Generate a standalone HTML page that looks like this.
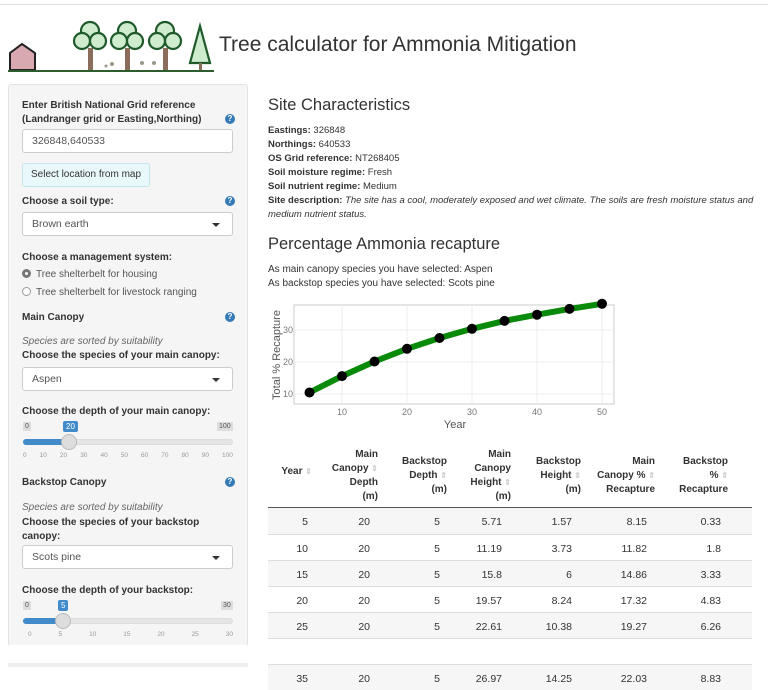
<!DOCTYPE html>
<html><head><meta charset="utf-8"><style>
*{box-sizing:border-box;margin:0;padding:0}
body{width:768px;height:685px;overflow:hidden;background:#fff;font-family:"Liberation Sans",Arial,sans-serif;color:#333;position:relative;font-size:11px}
.a{position:absolute;white-space:nowrap}
.b{font-weight:bold}
.panel{position:absolute;left:8px;top:84px;width:240px;height:600px;background:#f5f5f5;border:1px solid #e3e3e3;border-radius:3px}
.inp{position:absolute;left:22px;width:211px;height:24px;background:#fff;border:1px solid #ccc;border-radius:3px;font-size:10.5px;color:#555;padding:5px 9px}
.q{position:absolute;width:10px;height:10px;border-radius:50%;background:#337ab7;color:#fff;font-size:8px;font-weight:bold;text-align:center;line-height:10px}
.caret{position:absolute;right:12px;top:10px;border-left:4px solid transparent;border-right:4px solid transparent;border-top:4px solid #333}
.hd{position:absolute;font-weight:bold;font-size:10px;line-height:14px;text-align:right;color:#333}
.hd i{color:#ccc;font-style:normal;font-size:8px}
.row{position:absolute;left:268px;width:484px;height:26px;border-top:1px solid #ddd}
.c{position:absolute;top:8px;font-size:10.5px;color:#333;text-align:right;width:60px}
</style></head><body>
<div class="a" style="left:0;top:4px;width:768px;border-top:1px solid #ddd"></div>
<svg class="a" style="left:8px;top:20px" width="210" height="55" viewBox="0 0 210 55">
<path d="M2 50 V33 L14 24 L27 33 V50 Z" fill="#d8a9b1" stroke="#222" stroke-width="2"/>
<line x1="0" y1="51" x2="206" y2="51" stroke="#2d5d2d" stroke-width="2"/>
<g fill="#cfeccf" stroke="#1f5a2a" stroke-width="2.2">
<rect x="80" y="28" width="5" height="22" fill="#8b6d5c" stroke="none"/>
<rect x="117" y="28" width="5" height="22" fill="#8b6d5c" stroke="none"/>
<rect x="155" y="28" width="5" height="22" fill="#8b6d5c" stroke="none"/>
<circle cx="82" cy="11" r="9"/><circle cx="74" cy="21" r="8"/><circle cx="90" cy="21" r="8"/>
<circle cx="119" cy="11" r="9"/><circle cx="111" cy="21" r="8"/><circle cx="127" cy="21" r="8"/>
<circle cx="157" cy="11" r="9"/><circle cx="149" cy="21" r="8"/><circle cx="165" cy="21" r="8"/>
<path d="M192 6 L182 43 H202 Z"/><rect x="191" y="43" width="3" height="7" fill="#8b6d5c" stroke="none"/>
</g>
<g fill="#998"><circle cx="104" cy="44" r="2"/><circle cx="134" cy="43" r="2"/><circle cx="146" cy="43" r="2"/><circle cx="98" cy="46" r="1.5"/></g>
</svg>
<div class="a" style="left:219px;top:33px;font-size:21px;color:#333">Tree calculator for Ammonia Mitigation</div>

<div class="panel"></div>
<div class="a b" style="left:22px;top:99px;font-size:10px;line-height:14px">Enter British National Grid reference<br>(Landranger grid or Easting,Northing)</div>
<div class="q" style="left:225px;top:114px">?</div>
<div class="inp" style="top:129px">326848,640533</div>
<div class="a" style="left:22px;top:163px;width:128px;height:24px;background:#e9f8fb;border:1px solid #c5e6ec;border-radius:3px;font-size:10px;color:#333;padding:5px 8px">Select location from map</div>
<div class="a b" style="left:22px;top:196px;font-size:10px">Choose a soil type:</div>
<div class="q" style="left:225px;top:196px">?</div>
<div class="inp" style="top:212px">Brown earth<span class="caret"></span></div>
<div class="a b" style="left:22px;top:252px;font-size:10px">Choose a management system:</div>
<div class="a" style="left:22px;top:269px;font-size:10px;color:#555"><span style="display:inline-block;width:9px;height:9px;border-radius:50%;border:3px solid #777;background:#fff;vertical-align:-1px;margin-right:5px"></span>Tree shelterbelt for housing</div>
<div class="a" style="left:22px;top:287px;font-size:10px;color:#555"><span style="display:inline-block;width:9px;height:9px;border-radius:50%;border:1px solid #999;background:#fff;vertical-align:-1px;margin-right:5px"></span>Tree shelterbelt for livestock ranging</div>
<div class="a b" style="left:22px;top:312px;font-size:10px">Main Canopy</div>
<div class="q" style="left:225px;top:312px">?</div>
<div class="a" style="left:22px;top:336px;font-size:10px;font-style:italic;color:#666">Species are sorted by suitability</div>
<div class="a b" style="left:22px;top:350px;font-size:10px">Choose the species of your main canopy:</div>
<div class="inp" style="top:367px">Aspen<span class="caret"></span></div>
<div class="a b" style="left:22px;top:406px;font-size:10px">Choose the depth of your main canopy:</div>
<div class="a" style="left:23px;top:422px;font-size:7px;background:#ddd;color:#555;padding:1px 2px">0</div>
<div class="a" style="left:63px;top:421px;font-size:8px;background:#428bca;color:#fff;padding:1px 3px;border-radius:2px">20</div>
<div class="a" style="left:217px;top:422px;font-size:7px;background:#ddd;color:#555;padding:1px 2px">100</div>
<div class="a" style="left:23px;top:439px;width:210px;height:6px;background:#e5e5e5;border-radius:3px;border:1px solid #ddd"></div>
<div class="a" style="left:23px;top:439px;width:46px;height:6px;background:#428bca;border-radius:3px"></div>
<div class="a" style="left:61px;top:434px;width:16px;height:16px;border-radius:50%;background:#ddd;border:1px solid #bbb"></div>
<div class="a" style="left:23px;top:452px;width:210px;font-size:6.5px;color:#999;display:flex;justify-content:space-between"><span>0</span><span>10</span><span>20</span><span>30</span><span>40</span><span>50</span><span>60</span><span>70</span><span>80</span><span>90</span><span>100</span></div>
<div class="a b" style="left:22px;top:477px;font-size:10px">Backstop Canopy</div>
<div class="q" style="left:225px;top:477px">?</div>
<div class="a" style="left:22px;top:502px;font-size:10px;font-style:italic;color:#666">Species are sorted by suitability</div>
<div class="a b" style="left:22px;top:516px;font-size:10px;line-height:14px">Choose the species of your backstop<br>canopy:</div>
<div class="inp" style="top:545px">Scots pine<span class="caret"></span></div>
<div class="a b" style="left:22px;top:585px;font-size:10px">Choose the depth of your backstop:</div>
<div class="a" style="left:23px;top:601px;font-size:7px;background:#ddd;color:#555;padding:1px 2px">0</div>
<div class="a" style="left:58px;top:600px;font-size:8px;background:#428bca;color:#fff;padding:1px 3px;border-radius:2px">5</div>
<div class="a" style="left:221px;top:601px;font-size:7px;background:#ddd;color:#555;padding:1px 2px">30</div>
<div class="a" style="left:23px;top:618px;width:210px;height:6px;background:#e5e5e5;border-radius:3px;border:1px solid #ddd"></div>
<div class="a" style="left:23px;top:618px;width:40px;height:6px;background:#428bca;border-radius:3px"></div>
<div class="a" style="left:55px;top:613px;width:16px;height:16px;border-radius:50%;background:#ddd;border:1px solid #bbb"></div>
<div class="a" style="left:28px;top:631px;width:205px;font-size:6.5px;color:#999;display:flex;justify-content:space-between"><span>0</span><span>5</span><span>10</span><span>15</span><span>20</span><span>25</span><span>30</span></div>
<div class="a" style="left:0;top:645px;width:260px;height:40px;background:#fff"></div>
<div class="a" style="left:8px;top:663px;width:240px;height:4px;background:#eee"></div>

<div class="a" style="left:268px;top:96px;font-size:16.5px;color:#333">Site Characteristics</div>
<div class="a" style="left:268px;top:124px;font-size:9.5px;line-height:14px;white-space:normal;width:495px">
<b>Eastings:</b> 326848<br><b>Northings:</b> 640533<br><b>OS Grid reference:</b> NT268405<br><b>Soil moisture regime:</b> Fresh<br><b>Soil nutrient regime:</b> Medium<br><b>Site description:</b> <i>The site has a cool, moderately exposed and wet climate. The soils are fresh moisture status and medium nutrient status.</i></div>
<div class="a" style="left:268px;top:235px;font-size:16.5px;color:#333">Percentage Ammonia recapture</div>
<div class="a" style="left:268px;top:263px;font-size:10px;line-height:14px">As main canopy species you have selected: Aspen<br>As backstop species you have selected: Scots pine</div>

<svg class="a" style="left:260px;top:295px" width="370" height="140">
<rect x="34" y="10" width="320" height="99" fill="#fff" stroke="#ccc"/>
<g stroke="#ececec" stroke-width="1">
<line x1="82" y1="10" x2="82" y2="109"/><line x1="147" y1="10" x2="147" y2="109"/><line x1="212" y1="10" x2="212" y2="109"/><line x1="277" y1="10" x2="277" y2="109"/><line x1="342" y1="10" x2="342" y2="109"/>
<line x1="34" y1="99" x2="354" y2="99"/><line x1="34" y1="67" x2="354" y2="67"/><line x1="34" y1="35" x2="354" y2="35"/>
</g>
<polyline fill="none" stroke="#0a8a0a" stroke-width="6" stroke-linejoin="round" points="49.5,97.5 82,81.1 114.5,66.5 147,53.8 179.5,43 212,33.8 244.5,25.9 277,19.7 309.5,13.9 342,8.8"/>
<g fill="#000"><circle cx="49.5" cy="97.5" r="5"/><circle cx="82" cy="81.1" r="5"/><circle cx="114.5" cy="66.5" r="5"/><circle cx="147" cy="53.8" r="5"/><circle cx="179.5" cy="43" r="5"/><circle cx="212" cy="33.8" r="5"/><circle cx="244.5" cy="25.9" r="5"/><circle cx="277" cy="19.7" r="5"/><circle cx="309.5" cy="13.9" r="5"/><circle cx="342" cy="8.8" r="5"/></g>
<g font-family="Liberation Sans" font-size="9" fill="#777" text-anchor="end"><text x="33" y="102">10</text><text x="33" y="70">20</text><text x="33" y="38">30</text></g>
<g font-family="Liberation Sans" font-size="9" fill="#777" text-anchor="middle"><text x="82" y="120">10</text><text x="147" y="120">20</text><text x="212" y="120">30</text><text x="277" y="120">40</text><text x="342" y="120">50</text></g>
<text x="195" y="133" font-family="Liberation Sans" font-size="11" fill="#555" text-anchor="middle">Year</text>
<text transform="translate(20,60) rotate(-90)" font-family="Liberation Sans" font-size="11" fill="#555" text-anchor="middle">Total % Recapture</text>
</svg>

<div class="hd" style="right:456px;top:465px">Year <i>⇕</i></div>
<div class="hd" style="right:390px;top:448px">Main<br>Canopy <i>⇕</i><br>Depth<br>(m)</div>
<div class="hd" style="right:321px;top:455px">Backstop<br>Depth <i>⇕</i><br>(m)</div>
<div class="hd" style="right:257px;top:448px">Main<br>Canopy<br>Height <i>⇕</i><br>(m)</div>
<div class="hd" style="right:187px;top:455px">Backstop<br>Height <i>⇕</i><br>(m)</div>
<div class="hd" style="right:113px;top:455px">Main<br>Canopy % <i>⇕</i><br>Recapture</div>
<div class="hd" style="right:40px;top:455px">Backstop<br>% <i>⇕</i><br>Recapture</div>
<div class="a" style="left:268px;top:507px;width:484px;border-top:2px solid #555"></div>

<div class="row" style="top:508px;background:#f6f6f6;border-top:none"><div class="c" style="left:-20px">5</div><div class="c" style="left:42px">20</div><div class="c" style="left:112px">5</div><div class="c" style="left:174px">5.71</div><div class="c" style="left:244px">1.57</div><div class="c" style="left:319px">8.15</div><div class="c" style="left:393px">0.33</div></div>
<div class="row" style="top:534px;background:#fff"><div class="c" style="left:-20px">10</div><div class="c" style="left:42px">20</div><div class="c" style="left:112px">5</div><div class="c" style="left:174px">11.19</div><div class="c" style="left:244px">3.73</div><div class="c" style="left:319px">11.82</div><div class="c" style="left:393px">1.8</div></div>
<div class="row" style="top:560px;background:#f6f6f6"><div class="c" style="left:-20px">15</div><div class="c" style="left:42px">20</div><div class="c" style="left:112px">5</div><div class="c" style="left:174px">15.8</div><div class="c" style="left:244px">6</div><div class="c" style="left:319px">14.86</div><div class="c" style="left:393px">3.33</div></div>
<div class="row" style="top:586px;background:#fff"><div class="c" style="left:-20px">20</div><div class="c" style="left:42px">20</div><div class="c" style="left:112px">5</div><div class="c" style="left:174px">19.57</div><div class="c" style="left:244px">8.24</div><div class="c" style="left:319px">17.32</div><div class="c" style="left:393px">4.83</div></div>
<div class="row" style="top:612px;background:#f6f6f6"><div class="c" style="left:-20px">25</div><div class="c" style="left:42px">20</div><div class="c" style="left:112px">5</div><div class="c" style="left:174px">22.61</div><div class="c" style="left:244px">10.38</div><div class="c" style="left:319px">19.27</div><div class="c" style="left:393px">6.26</div></div>
<div class="a" style="left:268px;top:638px;width:484px;border-top:1px solid #ddd"></div>
<div class="row" style="top:664px;background:#f6f6f6"><div class="c" style="left:-20px">35</div><div class="c" style="left:42px">20</div><div class="c" style="left:112px">5</div><div class="c" style="left:174px">26.97</div><div class="c" style="left:244px">14.25</div><div class="c" style="left:319px">22.03</div><div class="c" style="left:393px">8.83</div></div>
</body></html>
